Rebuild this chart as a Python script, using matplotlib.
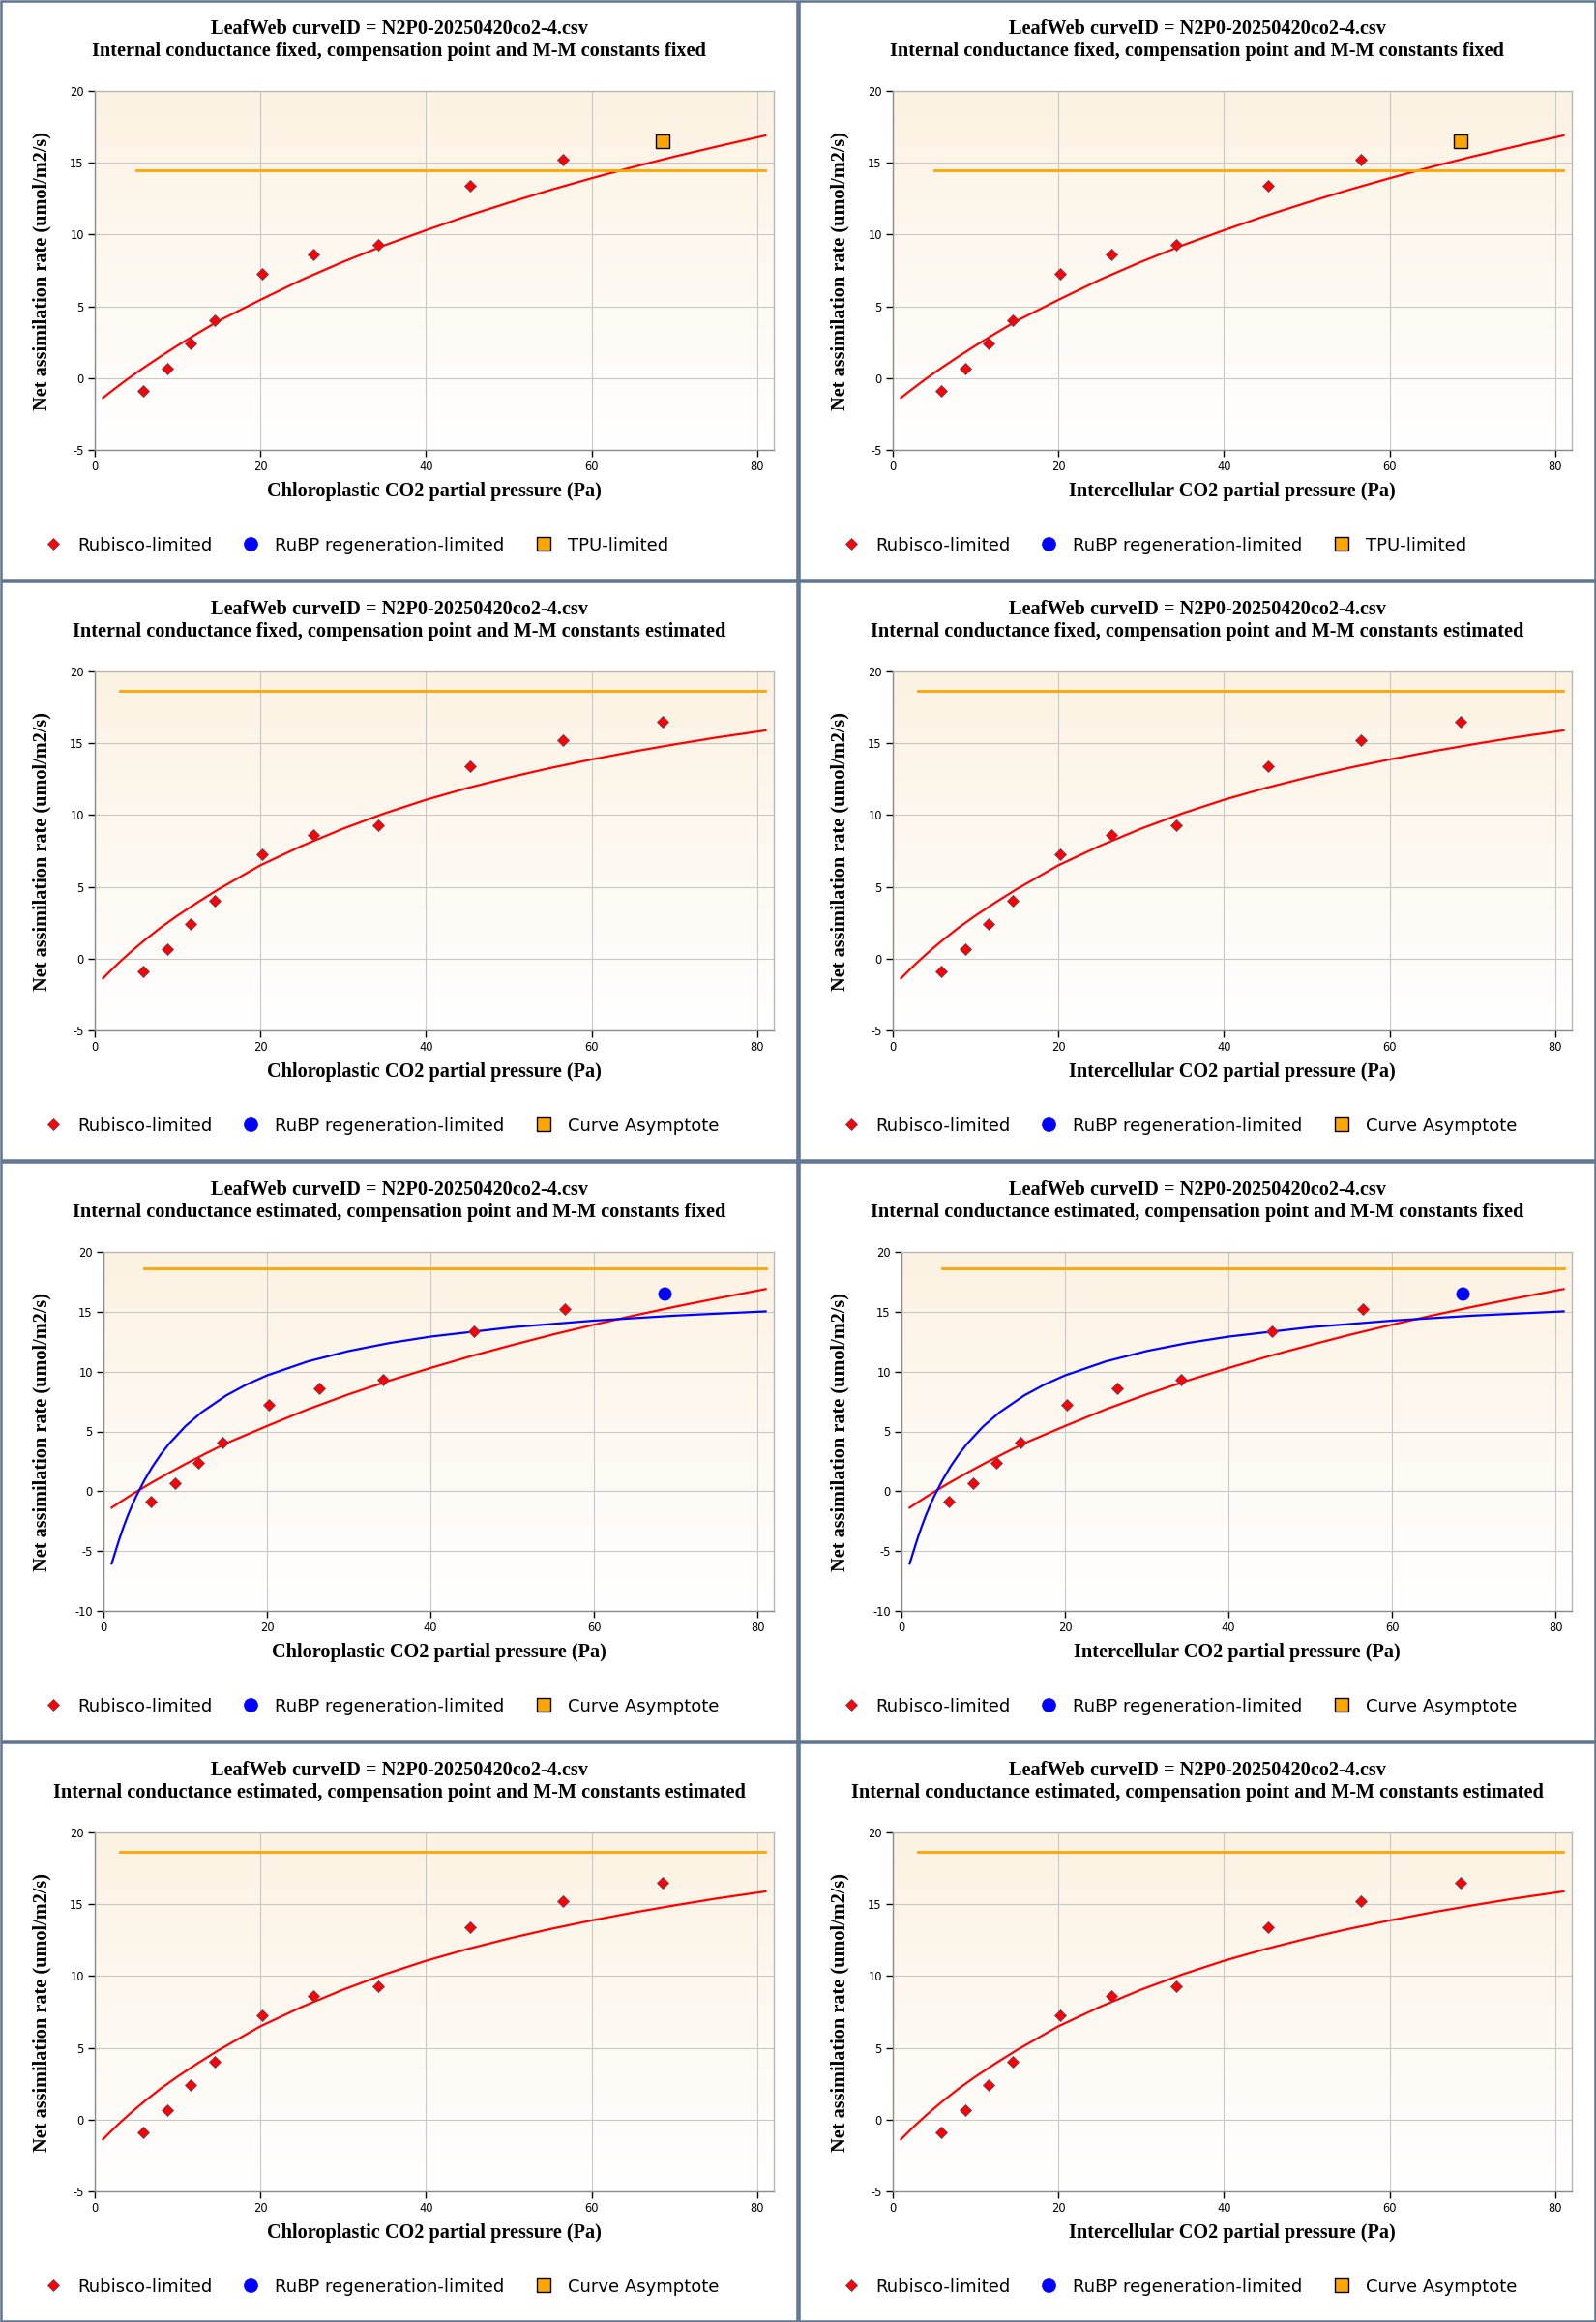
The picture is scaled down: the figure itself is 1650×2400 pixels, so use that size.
import numpy as np
import matplotlib
matplotlib.use('Agg')
import matplotlib.pyplot as plt
from matplotlib.lines import Line2D
from matplotlib.patches import Rectangle

plt.rcParams['axes.unicode_minus'] = False

# measured points (same in every panel)
co2_obs = [5.8, 8.8, 11.6, 14.5, 20.2, 26.4, 34.2, 45.3, 56.5]
anet_obs = [-0.9, 0.65, 2.4, 4.05, 7.25, 8.6, 9.3, 13.4, 15.2]
co2_last = 68.6
anet_last = 16.5

# fitted curves
curve_x = [1, 2, 3, 4, 5, 6, 8, 10, 12.5, 15, 20, 25, 30, 35, 40, 45, 50, 55, 60,
           65, 70, 75, 81]
rubisco_gm_fixed = [-1.37, -0.92, -0.48, -0.05, 0.36, 0.76, 1.53, 2.27, 3.15, 4.0,
                    5.45, 6.85, 8.1, 9.25, 10.3, 11.3, 12.22, 13.1, 13.92, 14.7,
                    15.43, 16.11, 16.9]
rubisco_gm_est = [-1.37, -0.79, -0.24, 0.29, 0.79, 1.27, 2.18, 3.0, 3.95, 4.85,
                  6.5, 7.85, 9.05, 10.12, 11.06, 11.88, 12.61, 13.27, 13.87, 14.42,
                  14.92, 15.39, 15.89]
rubp_x = [1, 1.5, 2, 2.5, 3, 3.5, 4, 5, 6, 7, 8, 10, 12, 15, 17.5, 20, 25, 30, 35,
          40, 50, 60, 70, 81]
rubp_y = [-6.05, -4.95, -3.87, -2.89, -1.99, -1.18, -0.42, 0.91, 2.07, 3.07, 3.95,
          5.42, 6.6, 8.0, 8.92, 9.68, 10.85, 11.72, 12.39, 12.92, 13.71, 14.26,
          14.68, 15.03]

# horizontal orange line per row: level, start x
asym_level = [14.5, 18.66, 18.65, 18.66]
asym_start = [5.0, 3.0, 5.0, 3.0]
asym_end = 81

title_top = "LeafWeb curveID = N2P0-20250420co2-4.csv"
subtitles = [
    "Internal conductance fixed, compensation point and M-M constants fixed",
    "Internal conductance fixed, compensation point and M-M constants estimated",
    "Internal conductance estimated, compensation point and M-M constants fixed",
    "Internal conductance estimated, compensation point and M-M constants estimated",
]
xlabels = ["Chloroplastic CO2 partial pressure (Pa)", "Intercellular CO2 partial pressure (Pa)"]
ylabel = "Net assimilation rate (umol/m2/s)"
legend_labels = [["Rubisco-limited", "RuBP regeneration-limited", "TPU-limited"]] + \
                [["Rubisco-limited", "RuBP regeneration-limited", "Curve Asymptote"]] * 3
ylims = [(-5, 20), (-5, 20), (-10, 20), (-5, 20)]
xticks = [0, 20, 40, 60, 80]

W, H = 1650, 2400
PW, PH = 825, 600
RED, BLUE, ORANGE = '#FF0000', '#0000FF', '#FFA500'
BORDER = '#607591'
SERIF = 'Liberation Serif'
SANS = 'DejaVu Sans'
SERIF_SIZE = 14.6


def fx(px):
    return px / W


def fy(py):
    return 1 - py / H


fig = plt.figure(figsize=(W / 100, H / 100), dpi=100)

# background gradient for plot area
top_c = np.array([252, 242, 226]) / 255
bot_c = np.array([255, 255, 255]) / 255
t = np.linspace(0, 1, 256)[:, None]
grad = (top_c * (1 - t) + bot_c * t)[:, None, :]

for r in range(4):
    for c in range(2):
        x0, y0 = c * PW, r * PH
        left = x0 + (107 if r == 2 else 98)
        right = x0 + 800
        top, bottom = y0 + 94, y0 + 465
        ax = fig.add_axes([fx(left), fy(bottom), (right - left) / W, (bottom - top) / H])
        ax.imshow(grad, aspect='auto', extent=[0, 1, 0, 1], transform=ax.transAxes, zorder=0)

        red_curve = rubisco_gm_fixed if r in (0, 2) else rubisco_gm_est
        ax.plot(curve_x, red_curve, color=RED, lw=1.6, zorder=3)
        if r == 2:
            ax.plot(rubp_x, rubp_y, color=BLUE, lw=1.6, zorder=3)
        ax.plot([asym_start[r], asym_end], [asym_level[r]] * 2, color=ORANGE, lw=2.0, zorder=3)

        ax.plot(co2_obs, anet_obs, ls='none', marker='D', ms=6.3, mfc=RED,
                mec='#5a4a6a', mew=0.6, zorder=4)
        if r == 0:
            ax.plot([co2_last], [anet_last], ls='none', marker='s', ms=9.5, mfc=ORANGE,
                    mec='black', mew=1.0, zorder=4)
        elif r == 2:
            ax.plot([co2_last], [anet_last], ls='none', marker='o', ms=9.5, mfc=BLUE,
                    mec=BLUE, mew=0.5, zorder=4)
        else:
            ax.plot([co2_last], [anet_last], ls='none', marker='D', ms=6.3, mfc=RED,
                    mec='#5a4a6a', mew=0.6, zorder=4)

        ax.set_xlim(0, 82)
        ax.set_ylim(*ylims[r])
        ax.set_xticks(xticks)
        ax.set_yticks(np.arange(ylims[r][0], ylims[r][1] + 1, 5))
        ax.grid(True, color='#c8c8c8', lw=0.8)
        ax.set_axisbelow(True)
        ax.tick_params(length=5, width=1, color='black', labelsize=8.3, pad=3)
        for lab in ax.get_xticklabels() + ax.get_yticklabels():
            lab.set_family(SANS)
        ax.spines['left'].set_color('#8a8a8a')
        ax.spines['bottom'].set_color('#8a8a8a')
        ax.spines['top'].set_color('#b8b8b8')
        ax.spines['right'].set_color('#b8b8b8')
        for s in ax.spines.values():
            s.set_linewidth(1)

        axw = right - left
        axh = bottom - top
        ax.set_xlabel(xlabels[c], family=SERIF, weight='bold', size=SERIF_SIZE)
        ax.xaxis.set_label_coords(0.5, (465 - 508) / axh)
        ax.xaxis.label.set_verticalalignment('center')
        ax.set_ylabel(ylabel, family=SERIF, weight='bold', size=SERIF_SIZE)
        ax.yaxis.set_label_coords((x0 + 43 - left) / axw, 0.5)
        ax.yaxis.label.set_verticalalignment('center')

        fig.text(fx(x0 + 412.5), fy(y0 + 30), title_top, ha='center', va='center',
                 family=SERIF, weight='bold', size=SERIF_SIZE)
        fig.text(fx(x0 + 412.5), fy(y0 + 53), subtitles[r], ha='center', va='center',
                 family=SERIF, weight='bold', size=SERIF_SIZE)

        # legend row
        ly = y0 + 562
        handles = [
            (55, dict(marker='D', ms=6, mfc=RED, mec='#5a4a6a', mew=0.6)),
            (259, dict(marker='o', ms=10, mfc=BLUE, mec=BLUE, mew=0.5)),
            (562, dict(marker='s', ms=9.5, mfc=ORANGE, mec='black', mew=1.0)),
        ]
        text_x = [80, 284, 587]
        for (mx, kw), tx, lab in zip(handles, text_x, legend_labels[r]):
            fig.add_artist(Line2D([fx(x0 + mx)], [fy(ly)], transform=fig.transFigure,
                                  ls='none', **kw))
            fig.text(fx(x0 + tx), fy(ly), lab, ha='left', va='center_baseline',
                     family=SANS, size=13)

        fig.add_artist(Rectangle((fx(x0 + 1), fy(y0 + PH - 1)), (PW - 2) / W, (PH - 2) / H,
                                 transform=fig.transFigure, fill=False,
                                 edgecolor=BORDER, lw=1.8))

fig.savefig('out.png', dpi=100, facecolor='white')
